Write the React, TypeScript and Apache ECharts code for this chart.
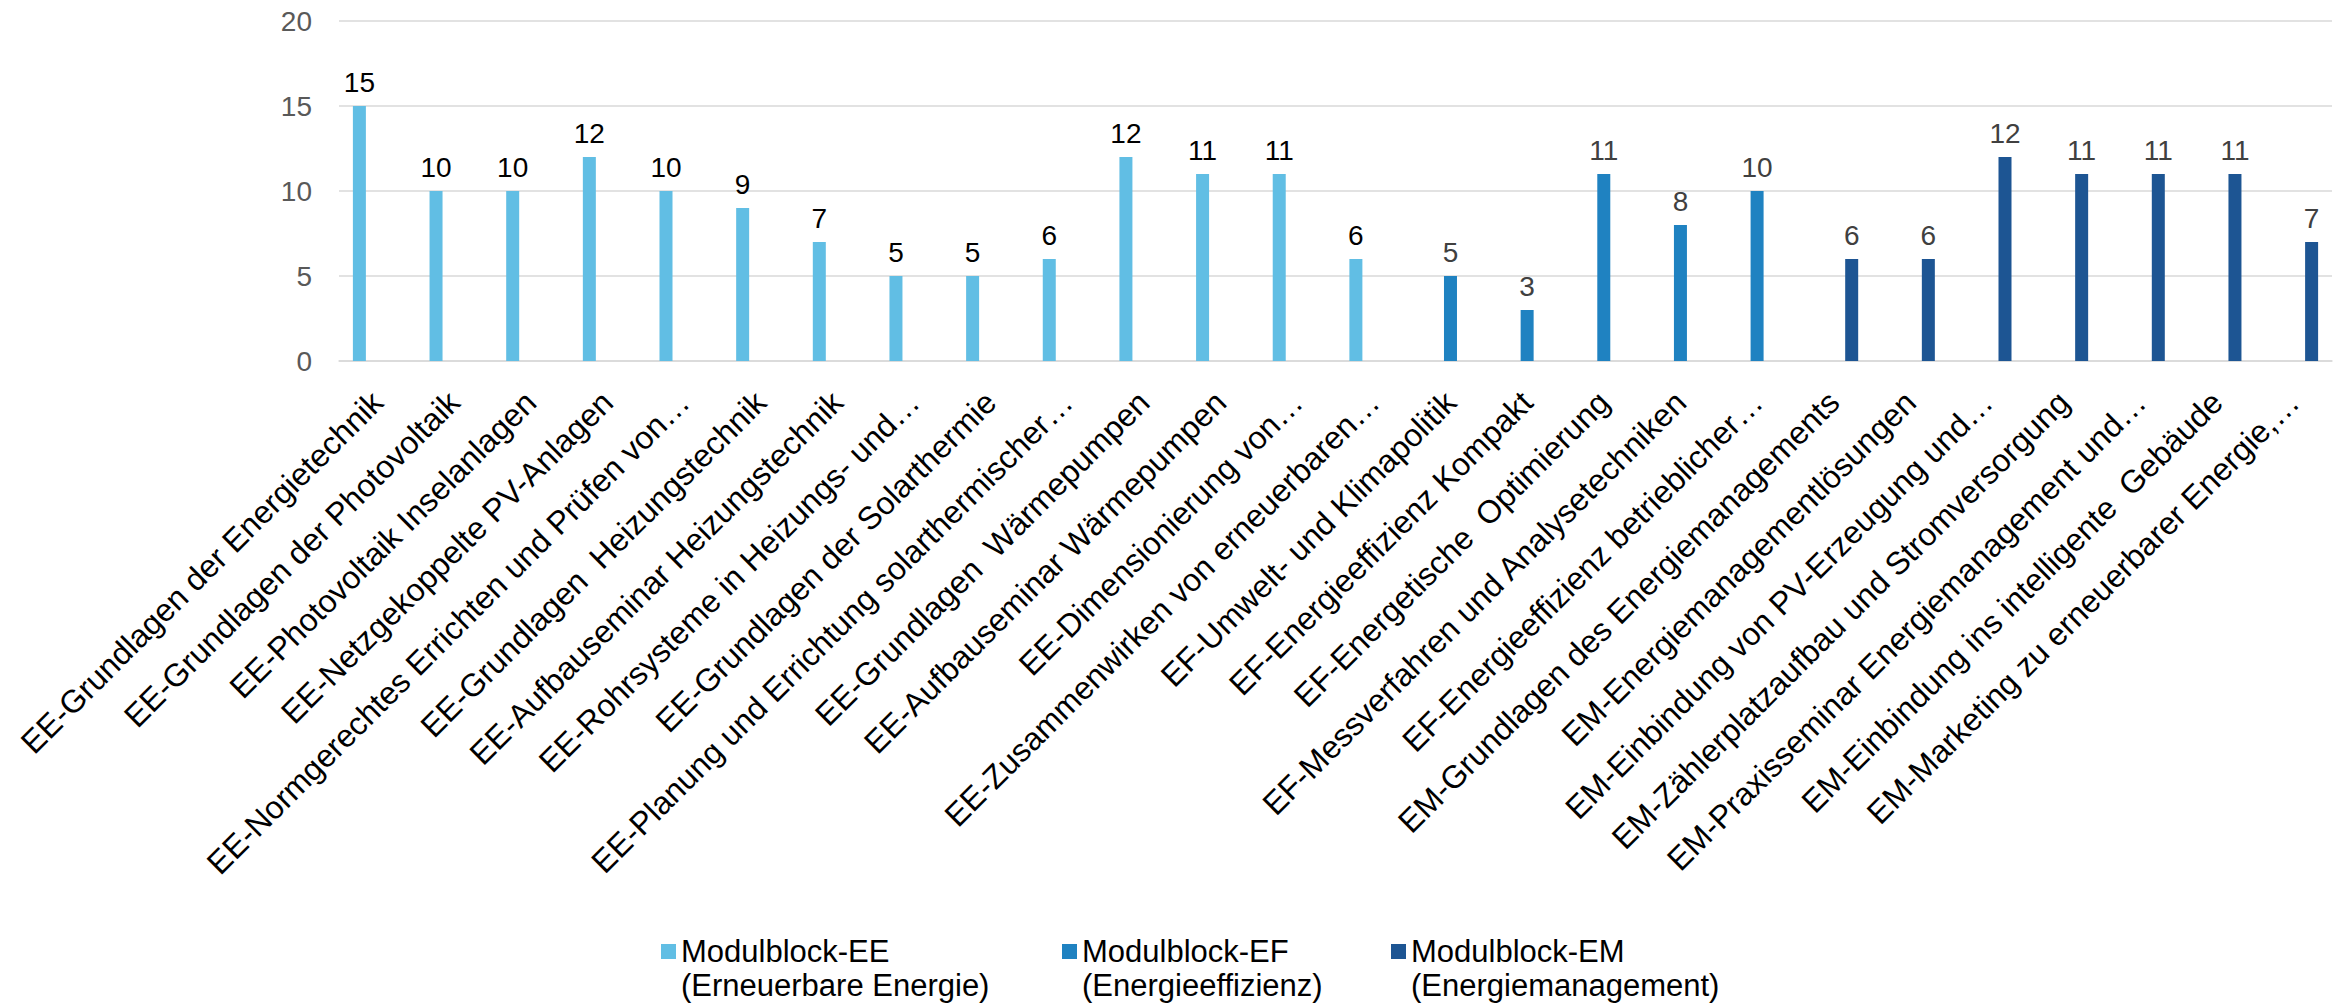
import React, { useEffect, useRef } from "react";
import * as echarts from "echarts";

const categories: string[] = [
  "EE-Grundlagen der Energietechnik",
  "EE-Grundlagen der Photovoltaik",
  "EE-Photovoltaik Inselanlagen",
  "EE-Netzgekoppelte PV-Anlagen",
  "EE-Normgerechtes Errichten und Prüfen von…",
  "EE-Grundlagen  Heizungstechnik",
  "EE-Aufbauseminar Heizungstechnik",
  "EE-Rohrsysteme in Heizungs- und…",
  "EE-Grundlagen der Solarthermie",
  "EE-Planung und Errichtung solarthermischer…",
  "EE-Grundlagen  Wärmepumpen",
  "EE-Aufbauseminar Wärmepumpen",
  "EE-Dimensionierung von…",
  "EE-Zusammenwirken von erneuerbaren…",
  "EF-Umwelt- und Klimapolitik",
  "EF-Energieeffizienz Kompakt",
  "EF-Energetische  Optimierung",
  "EF-Messverfahren und Analysetechniken",
  "EF-Energieeffizienz betrieblicher…",
  "EM-Grundlagen des Energiemanagements",
  "EM-Energiemanagementlösungen",
  "EM-Einbindung von PV-Erzeugung und…",
  "EM-Zählerplatzaufbau und Stromversorgung",
  "EM-Praxisseminar Energiemanagement und…",
  "EM-Einbindung ins intelligente  Gebäude",
  "EM-Marketing zu erneuerbarer Energie,…",
];

const eeValues: (number | null)[] = [
  15, 10, 10, 12, 10, 9, 7, 5, 5, 6, 12, 11, 11, 6,
  null, null, null, null, null,
  null, null, null, null, null, null, null,
];
const efValues: (number | null)[] = [
  null, null, null, null, null, null, null, null, null, null, null, null, null, null,
  5, 3, 11, 8, 10,
  null, null, null, null, null, null, null,
];
const emValues: (number | null)[] = [
  null, null, null, null, null, null, null, null, null, null, null, null, null, null,
  null, null, null, null, null,
  6, 6, 12, 11, 11, 11, 7,
];

const seriesNames: string[] = ["Modulblock-EE", "Modulblock-EF", "Modulblock-EM"];
const seriesSubtitles: string[] = [
  "(Erneuerbare Energie)",
  "(Energieeffizienz)",
  "(Energiemanagement)",
];
const yTicks: number[] = [0, 5, 10, 15, 20];

const FONT = "'Liberation Sans', Arial, sans-serif";
const colors = ["#61BEE4", "#1F82C1", "#1D5593"];
const labelColors = ["#000000", "#404040", "#404040"];
const legendLefts = [656, 1057, 1386];

export default function App() {
  const ref = useRef<HTMLDivElement>(null);

  useEffect(() => {
    if (!ref.current) return;
    const chart = echarts.init(ref.current, null, { renderer: "svg" });
    const values = [eeValues, efValues, emValues];

    const option: any = {
      animation: false,
      backgroundColor: "#ffffff",
      textStyle: { fontFamily: FONT },
      grid: { left: 339, right: 14, top: 21, bottom: 646, containLabel: false },
      xAxis: {
        type: "category",
        data: categories,
        axisTick: { show: false },
        axisLine: { lineStyle: { color: "#D9D9D9", width: 1.5 } },
        axisLabel: {
          interval: 0,
          rotate: 45,
          margin: 36,
          fontSize: 32,
          fontWeight: "normal",
          color: "#000000",
          fontFamily: FONT,
        },
      },
      yAxis: {
        type: "value",
        min: yTicks[0],
        max: yTicks[yTicks.length - 1],
        interval: yTicks[1] - yTicks[0],
        axisLine: { show: false },
        axisTick: { show: false },
        splitLine: { lineStyle: { color: "#D9D9D9", width: 1.5 } },
        axisLabel: { fontSize: 28, color: "#595959", margin: 27, fontFamily: FONT },
      },
      legend: seriesNames.map((n, i) => ({
        data: [n],
        left: legendLefts[i],
        top: 929,
        orient: "horizontal",
        itemWidth: 15,
        itemHeight: 48,
        itemGap: 0,
        icon: "path://M0,0H15V15H0Z M0,47.9H0.1V48H0Z",
        textStyle: { fontSize: 31, lineHeight: 34, color: "#000000", fontFamily: FONT },
        formatter: (name: string) => name + "\n" + seriesSubtitles[seriesNames.indexOf(name)],
        selectedMode: false,
      })),
      series: seriesNames.map((n, i) => ({
        name: n,
        type: "bar",
        data: values[i],
        barWidth: 13,
        barGap: "38%",
        itemStyle: { color: colors[i] },
        label: {
          show: true,
          position: "top",
          distance: 10,
          fontSize: 28,
          fontWeight: "normal",
          color: labelColors[i],
          fontFamily: FONT,
        },
      })),
    };

    chart.setOption(option);
    return () => chart.dispose();
  }, []);

  return (
    <div
      ref={ref}
      style={{ position: "absolute", left: 0, top: 0, width: 2346, height: 1007, background: "#fff" }}
    />
  );
}
